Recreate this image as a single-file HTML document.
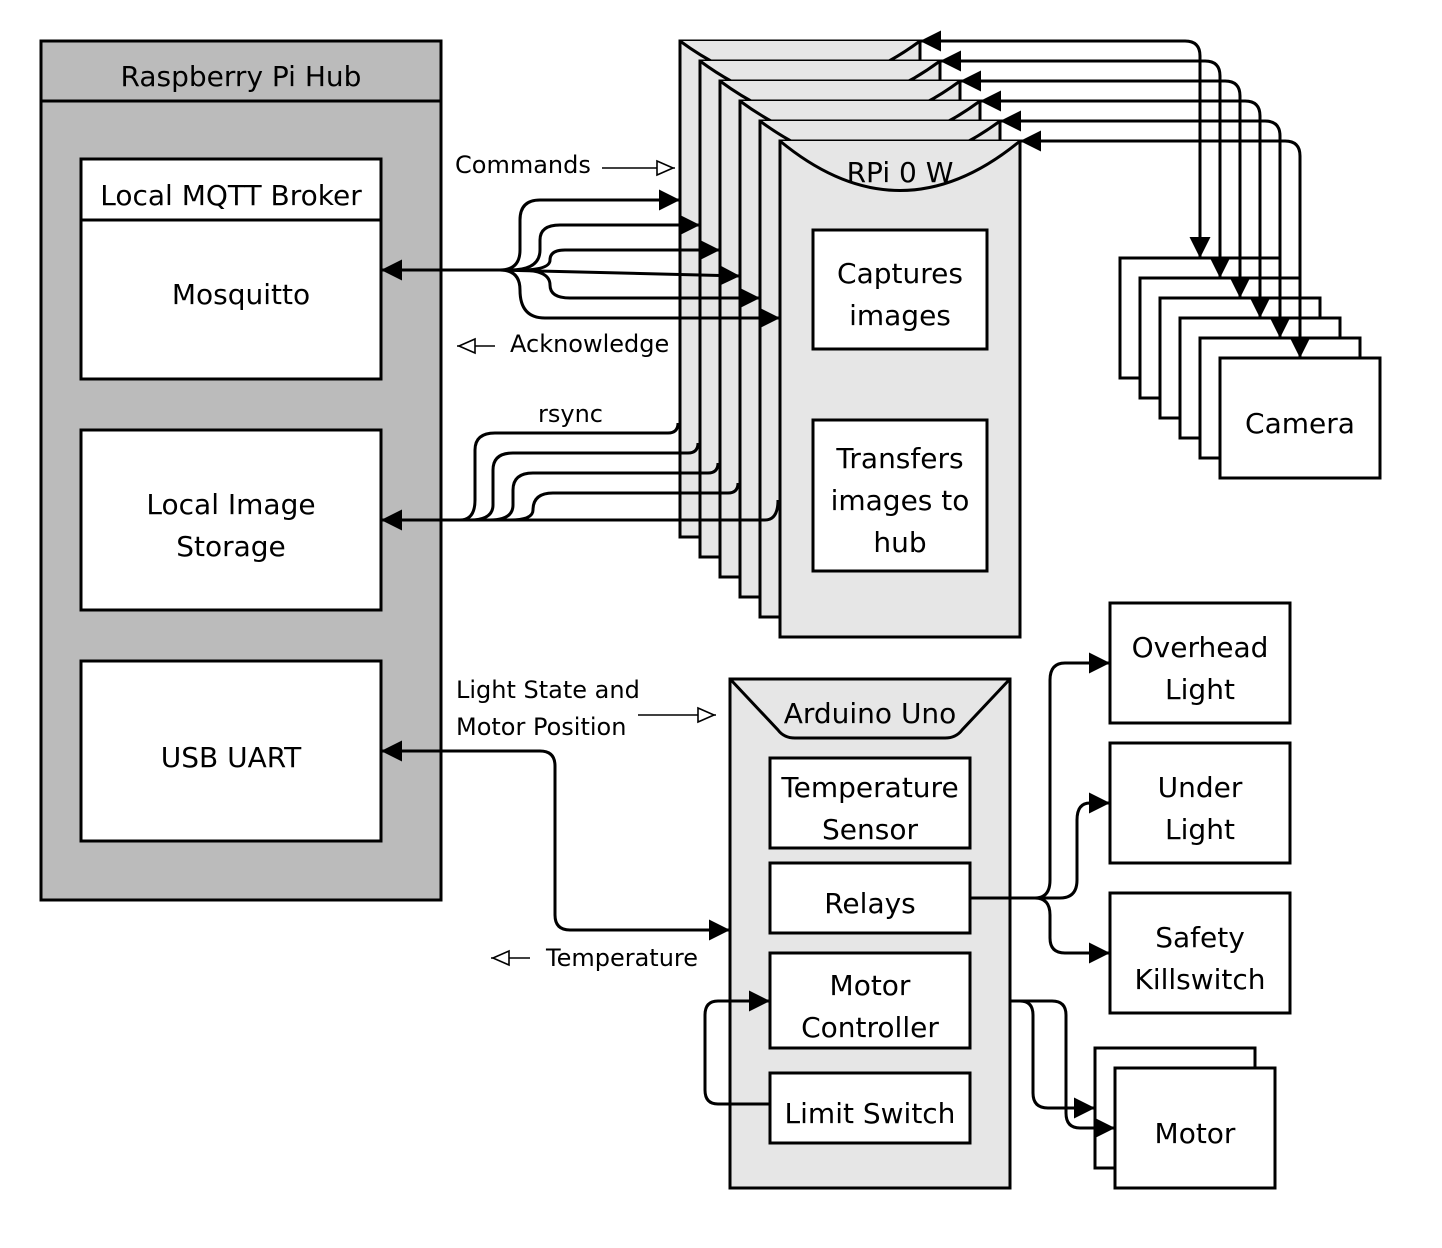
<!DOCTYPE html>
<html><head><meta charset="utf-8"><style>
html,body{margin:0;padding:0;background:#fff;}
svg{display:block;}
text{font-family:"DejaVu Sans","Liberation Sans",sans-serif;fill:#000;}
</style></head><body>
<svg width="1442" height="1248" viewBox="0 0 1442 1248" xmlns="http://www.w3.org/2000/svg">
<defs>
<marker id="a" viewBox="0 0 10 10" refX="10" refY="5" markerWidth="7" markerHeight="7" markerUnits="strokeWidth" orient="auto-start-reverse"><path d="M0,0L10,5L0,10z" fill="#000"/></marker>
<marker id="o" viewBox="0 0 10 10" refX="10" refY="5" markerWidth="20" markerHeight="20" markerUnits="userSpaceOnUse" orient="auto"><path d="M1,1.5L9,5L1,8.5z" fill="#fff" stroke="#000" stroke-width="0.8"/></marker>
</defs>
<g stroke="#000" stroke-width="3" fill="none">
<rect x="41" y="41" width="400" height="859" fill="#bbb"/>
<line x1="41" y1="101" x2="441" y2="101"/>
<rect x="81" y="159" width="300" height="220" fill="#fff"/>
<line x1="81" y1="220" x2="381" y2="220"/>
<rect x="81" y="430" width="300" height="180" fill="#fff"/>
<rect x="81" y="661" width="300" height="180" fill="#fff"/>
<g fill="#e6e6e6">
<path d="M680,41H920V537H680Z"/><path d="M680,41Q800,130 920,41"/>
<path d="M700,61H940V557H700Z"/><path d="M700,61Q820,150 940,61"/>
<path d="M720,81H960V577H720Z"/><path d="M720,81Q840,170 960,81"/>
<path d="M740,101H980V597H740Z"/><path d="M740,101Q860,190 980,101"/>
<path d="M760,121H1000V617H760Z"/><path d="M760,121Q880,210 1000,121"/>
<path d="M780,141H1020V637H780Z"/><path d="M780,141Q900,240 1020,141"/>
</g>
<rect x="813" y="230" width="174" height="119" fill="#fff"/>
<rect x="813" y="420" width="174" height="151" fill="#fff"/>
<g fill="#fff">
<rect x="1120" y="258" width="160" height="120"/>
<rect x="1140" y="278" width="160" height="120"/>
<rect x="1160" y="298" width="160" height="120"/>
<rect x="1180" y="318" width="160" height="120"/>
<rect x="1200" y="338" width="160" height="120"/>
<rect x="1220" y="358" width="160" height="120"/>
</g>
<g marker-start="url(#a)" marker-end="url(#a)">
<path d="M920,41H1185Q1200,41 1200,56V258"/>
<path d="M940,61H1205Q1220,61 1220,76V278"/>
<path d="M960,81H1225Q1240,81 1240,96V298"/>
<path d="M980,101H1245Q1260,101 1260,116V318"/>
<path d="M1000,121H1265Q1280,121 1280,136V338"/>
<path d="M1020,141H1285Q1300,141 1300,156V358"/>
</g>
<path d="M381,270H500" marker-start="url(#a)"/>
<g marker-end="url(#a)">
<path d="M500,270Q520,270 520,250V220Q520,200 540,200H680"/>
<path d="M510,270Q540,270 540,250V240Q540,225 560,225H700"/>
<path d="M520,270Q550,270 550,260Q550,250 565,250H720"/>
<path d="M500,270L740,276"/>
<path d="M520,270Q550,270 550,285Q550,298 570,298H760"/>
<path d="M500,270Q520,270 520,290Q520,318 545,318H780"/>
</g>
<path d="M381,520H460" marker-start="url(#a)"/>
<path d="M460,520Q475,520 475,500V450Q475,433 495,433H668Q678,433 678,423"/>
<path d="M470,520Q493,520 493,505V470Q493,453 513,453H688Q698,453 698,443"/>
<path d="M490,520Q513,520 513,505V490Q513,473 533,473H708Q718,473 718,463"/>
<path d="M510,520Q533,520 533,510Q533,493 553,493H728Q738,493 738,483"/>
<path d="M460,520H765Q778,520 778,500"/>
<rect x="730" y="679" width="280" height="509" fill="#e6e6e6"/>
<path d="M731,680L778,730Q784,738 795,738H945Q956,738 962,730L1009,680"/>
<g fill="#fff">
<rect x="770" y="758" width="200" height="90"/>
<rect x="770" y="863" width="200" height="70"/>
<rect x="770" y="953" width="200" height="95"/>
<rect x="770" y="1073" width="200" height="70"/>
<rect x="1110" y="603" width="180" height="120"/>
<rect x="1110" y="743" width="180" height="120"/>
<rect x="1110" y="893" width="180" height="120"/>
<rect x="1095" y="1048" width="160" height="120"/>
<rect x="1115" y="1068" width="160" height="120"/>
</g>
<path d="M381,751H540Q555,751 555,766V915Q555,930 570,930H730" marker-start="url(#a)" marker-end="url(#a)"/>
<g marker-end="url(#a)">
<path d="M970,898H1035Q1050,898 1050,880V680Q1050,663 1065,663H1110"/>
<path d="M970,898H1060Q1077,898 1077,880V820Q1077,803 1090,803H1110"/>
<path d="M1035,898Q1050,898 1050,915V938Q1050,953 1065,953H1110"/>
<path d="M1010,1001H1020Q1033,1001 1033,1015V1093Q1033,1108 1048,1108H1095"/>
<path d="M1010,1001H1052Q1066,1001 1066,1015V1113Q1066,1128 1080,1128H1115"/>
<path d="M770,1104H718Q705,1104 705,1090V1015Q705,1001 718,1001H770"/>
</g>
<g stroke-width="1.5" marker-end="url(#o)">
<path d="M602,168H675"/>
<path d="M495,346H457"/>
<path d="M638,715H716"/>
<path d="M530,958H491"/>
</g>
</g>
<g font-size="28" text-anchor="middle">
<text x="241" y="86">Raspberry Pi Hub</text>
<text x="231" y="205">Local MQTT Broker</text>
<text x="241" y="304">Mosquitto</text>
<text x="231" y="514">Local Image</text>
<text x="231" y="556">Storage</text>
<text x="231" y="767">USB UART</text>
<text x="900" y="182">RPi 0 W</text>
<text x="900" y="283">Captures</text>
<text x="900" y="325">images</text>
<text x="900" y="468">Transfers</text>
<text x="900" y="510">images to</text>
<text x="900" y="552">hub</text>
<text x="1300" y="433">Camera</text>
<text x="870" y="723">Arduino Uno</text>
<text x="870" y="797">Temperature</text>
<text x="870" y="839">Sensor</text>
<text x="870" y="913">Relays</text>
<text x="870" y="995">Motor</text>
<text x="870" y="1037">Controller</text>
<text x="870" y="1123">Limit Switch</text>
<text x="1200" y="657">Overhead</text>
<text x="1200" y="699">Light</text>
<text x="1200" y="797">Under</text>
<text x="1200" y="839">Light</text>
<text x="1200" y="947">Safety</text>
<text x="1200" y="989">Killswitch</text>
<text x="1195" y="1143">Motor</text>
</g>
<g font-size="24">
<text x="455" y="173">Commands</text>
<text x="510" y="352">Acknowledge</text>
<text x="538" y="422">rsync</text>
<text x="456" y="698">Light State and</text>
<text x="456" y="735">Motor Position</text>
<text x="546" y="966">Temperature</text>
</g>
</svg>
</body></html>
